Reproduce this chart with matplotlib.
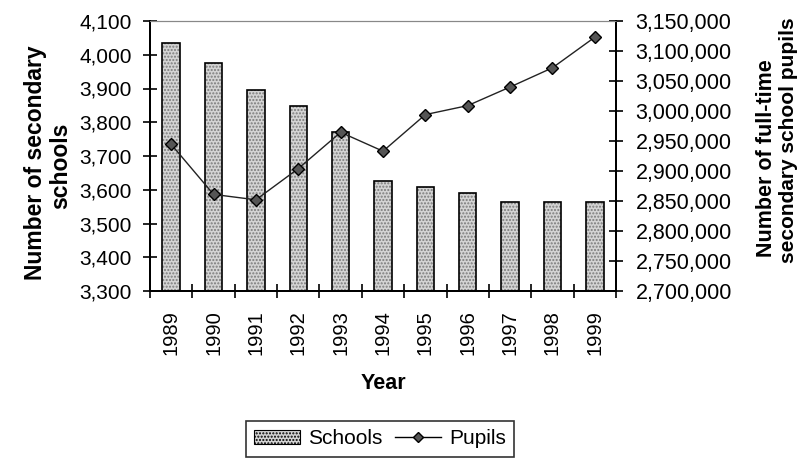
import matplotlib
matplotlib.use("Agg")
import matplotlib.pyplot as plt
import numpy as np
from matplotlib.ticker import FuncFormatter, FixedLocator
from matplotlib.patches import Patch
from matplotlib.lines import Line2D

plt.rcParams['font.family'] = ['Liberation Sans', 'DejaVu Sans']

years = ['1989', '1990', '1991', '1992', '1993', '1994', '1995', '1996', '1997', '1998', '1999']
schools = [4035, 3976, 3895, 3848, 3770, 3627, 3609, 3591, 3565, 3565, 3565]
pupils = [2944500, 2861000, 2852000, 2904000, 2964500, 2933000, 2994000, 3009000, 3040000, 3072000, 3123000]

fig = plt.figure(figsize=(7.99, 4.59), dpi=100)
ax = fig.add_axes([150/799, 1-291/459, (616-150)/799, 270/459])
ax2 = ax.twinx()

x = np.arange(len(years))
ax.bar(x, schools, width=0.41, color='#d4d4d4', edgecolor='#7a7a7a', hatch='.....', linewidth=0, zorder=2)
ax.bar(x, schools, width=0.41, facecolor='none', edgecolor='black', linewidth=1.2, zorder=3)
ax.set_ylim(3300, 4100)
ax.set_xlim(-0.5, len(years)-0.5)
ax.set_yticks(np.arange(3300, 4101, 100))
ax.yaxis.set_major_formatter(FuncFormatter(lambda v, p: f"{int(v):,}"))

ax2.plot(x, pupils, color='#222222', linewidth=1.0, marker='D', markersize=6,
         markerfacecolor='#555555', markeredgecolor='black', markeredgewidth=1.0, zorder=5)
ax2.set_ylim(2700000, 3150000)
ax2.set_yticks(np.arange(2700000, 3150001, 50000))
ax2.yaxis.set_major_formatter(FuncFormatter(lambda v, p: f"{int(v):,}"))

ax.set_xticks(x)
ax.set_xticklabels(years, rotation=90, fontsize=14.5)
ax.xaxis.set_minor_locator(FixedLocator(np.arange(-0.5, len(years), 1.0)))
ax.tick_params(axis='x', which='major', length=0, pad=14)
ax.tick_params(axis='x', which='minor', direction='inout', length=10, width=1.2)
ax.tick_params(axis='y', direction='inout', length=10, width=1.2, labelsize=15, pad=8)
ax2.tick_params(axis='y', direction='inout', length=10, width=1.2, labelsize=15.5, pad=9)

for a in (ax, ax2):
    a.spines['top'].set_color('#888888')
    a.spines['top'].set_linewidth(0.8)
    a.spines['top'].set_linestyle((0, (2, 1)))
    for s in ('left', 'right', 'bottom'):
        a.spines[s].set_linewidth(1.4)

ax.set_xlabel('Year', fontsize=15.5, fontweight='bold', labelpad=13)
fig.text(36/799, 1-163/459, 'Number of secondary', rotation=90, fontsize=16.5, fontweight='bold',
         ha='center', va='center')
fig.text(61/799, 1-166/459, 'schools', rotation=90, fontsize=16.5, fontweight='bold',
         ha='center', va='center')
fig.text(766/799, 1-158/459, 'Number of full-time', rotation=90, fontsize=15.5, fontweight='bold',
         ha='center', va='center')
fig.text(789/799, 1-140/459, 'secondary school pupils', rotation=90, fontsize=15, fontweight='bold',
         ha='center', va='center')

handles = [Patch(facecolor='#d4d4d4', edgecolor='black', hatch='.....', linewidth=0.8),
           Line2D([0], [0], color='black', linewidth=1.0, marker='D', markersize=5,
                  markerfacecolor='#555555', markeredgecolor='black')]
leg = fig.legend(handles, ['Schools', 'Pupils'], loc='upper center', bbox_to_anchor=(380/799, 1-421/459),
                 ncol=2, frameon=True, fancybox=False, edgecolor='black', fontsize=15,
                 handlelength=2.2, columnspacing=0.6, handletextpad=0.4, borderpad=0.4,
                 borderaxespad=0)
leg.get_frame().set_linewidth(1.2)

fig.savefig('out.png', dpi=100)
